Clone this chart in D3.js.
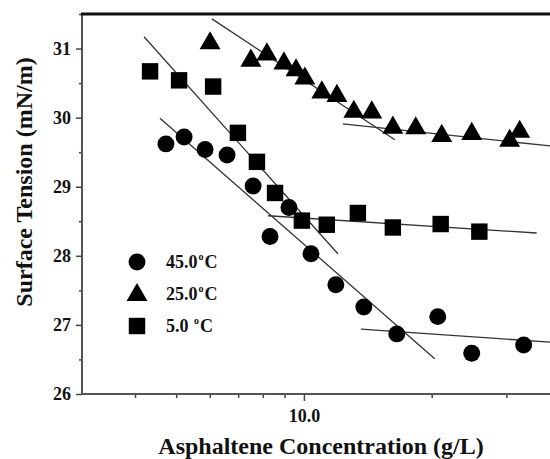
<!DOCTYPE html>
<html>
<head>
<meta charset="utf-8">
<script src="https://cdn.jsdelivr.net/npm/d3@7"></script>
<style>
  html, body { margin: 0; padding: 0; background: #fff; }
  svg { display: block; }
  text { font-family: "Liberation Serif", "Times New Roman", serif; font-weight: bold; fill: #111; }
</style>
</head>
<body>
<svg id="chart" width="550" height="459"></svg>
<script>
// ---- data ----
const seriesNames = ["45.0", "25.0", "5.0 "];
const circleX = [4.73, 5.22, 5.85, 6.59, 7.59, 8.32, 9.22, 10.39, 11.89, 13.84, 16.55, 20.67, 24.85, 32.94];
const circleY = [29.62, 29.72, 29.54, 29.46, 29.01, 28.28, 28.70, 28.03, 27.58, 27.26, 26.87, 27.12, 26.59, 26.71];
const triangleX = [6.01, 7.50, 8.18, 8.97, 9.58, 10.05, 11.02, 11.96, 13.11, 14.45, 16.2, 18.34, 21.12, 24.85, 30.53, 32.24];
const triangleY = [31.09, 30.84, 30.93, 30.80, 30.70, 30.58, 30.38, 30.33, 30.10, 30.09, 29.87, 29.86, 29.75, 29.78, 29.68, 29.81];
const squareX = [4.34, 5.08, 6.11, 6.99, 7.75, 8.55, 9.89, 11.32, 13.4, 16.2, 21.0, 25.9];
const squareY = [30.67, 30.54, 30.45, 29.78, 29.36, 28.91, 28.51, 28.45, 28.62, 28.41, 28.46, 28.35];
// fitted line segments: [x0, y0, x1, y1]
const fitLines = [
  [4.58, 29.99, 20.33, 26.51],
  [13.62, 26.94, 38, 26.75],
  [4.20, 31.17, 12.02, 28.03],
  [8.23, 28.58, 35.34, 28.33],
  [6.07, 31.43, 16.37, 29.68],
  [12.35, 29.91, 38, 29.59]
];
const xMinorTicks = [4, 5, 6, 7, 8, 9, 20, 30];
const xMajorTicks = [10];
const xTickLabels = ["10.0"];
const yMajorTicks = [26, 27, 28, 29, 30, 31];
const yMinorTicks = [26.5, 27.5, 28.5, 29.5, 30.5, 31.5];

// ---- layout ----
const L = 82, T = 14, R = 550, B = 394;
const svg = d3.select("#chart");
const x = d3.scaleLog().domain([3, 38]).range([L, R]);
const y = d3.scaleLinear().domain([26, 31.5]).range([B, T]);

svg.append("defs").append("clipPath").attr("id", "clip")
  .append("rect").attr("x", L).attr("y", T).attr("width", R - L).attr("height", B - T);

// axes
const xAxisMinor = d3.axisBottom(x).tickValues(xMinorTicks).tickSize(4).tickFormat("");
const xAxisMajor = d3.axisBottom(x).tickValues(xMajorTicks).tickSize(7).tickPadding(8)
  .tickFormat((d, i) => xTickLabels[i]);
const gxm = svg.append("g").attr("transform", `translate(0,${B})`).call(xAxisMinor);
const gx = svg.append("g").attr("transform", `translate(0,${B})`).call(xAxisMajor);
[gxm, gx].forEach(g => {
  g.select(".domain").attr("stroke", "#555").attr("stroke-width", 2).attr("d", `M${L},0H${R}`);
  g.selectAll(".tick line").attr("stroke", "#444").attr("stroke-width", 1.5);
});
gx.selectAll(".tick text").style("font-size", "18px").style("font-family", "Liberation Serif").style("font-weight", "bold").attr("fill", "#111");

const yAxisMinor = d3.axisLeft(y).tickValues(yMinorTicks).tickSize(3).tickFormat("");
const yAxisMajor = d3.axisLeft(y).tickValues(yMajorTicks).tickSize(6).tickPadding(5).tickFormat(d3.format("d"));
const gym = svg.append("g").attr("transform", `translate(${L},0)`).call(yAxisMinor);
const gy = svg.append("g").attr("transform", `translate(${L},0)`).call(yAxisMajor);
[gym, gy].forEach(g => {
  g.select(".domain").attr("stroke", "#555").attr("stroke-width", 2).attr("d", `M0,${T}V${B}`);
  g.selectAll(".tick line").attr("stroke", "#444").attr("stroke-width", 1.5);
});
gy.selectAll(".tick text").style("font-size", "18px").style("font-family", "Liberation Serif").style("font-weight", "bold").attr("fill", "#111");

// top border
svg.append("line").attr("x1", L - 1).attr("x2", R).attr("y1", T).attr("y2", T)
  .attr("stroke", "#111").attr("stroke-width", 3);

// axis titles
svg.append("text").attr("x", 321).attr("y", 454).attr("text-anchor", "middle")
  .style("font-size", "24px").text("Asphaltene Concentration (g/L)");
svg.append("text").attr("transform", "translate(32,182) rotate(-90)").attr("text-anchor", "middle")
  .style("font-size", "24px").text("Surface Tension (mN/m)");

// fit lines
const plot = svg.append("g").attr("clip-path", "url(#clip)");
plot.selectAll("line.fit").data(fitLines).join("line").attr("class", "fit")
  .attr("x1", d => x(d[0])).attr("y1", d => y(d[1]))
  .attr("x2", d => x(d[2])).attr("y2", d => y(d[3]))
  .attr("stroke", "#333").attr("stroke-width", 1.3);

// markers
const circleSym = d3.symbol().type(d3.symbolCircle).size(225);
const triSym = d3.symbol().type(d3.symbolTriangle).size(190);
const sqSym = d3.symbol().type(d3.symbolSquare).size(270);

const toPts = (xs, ys) => xs.map((v, i) => [v, ys[i]]);
svg.append("g").selectAll("path").data(toPts(circleX, circleY)).join("path")
  .attr("d", circleSym).attr("transform", d => `translate(${x(d[0])},${y(d[1])})`).attr("fill", "#000");
svg.append("g").selectAll("path").data(toPts(triangleX, triangleY)).join("path")
  .attr("d", triSym).attr("transform", d => `translate(${x(d[0])},${y(d[1]) + 1})`).attr("fill", "#000");
svg.append("g").selectAll("path").data(toPts(squareX, squareY)).join("path")
  .attr("d", sqSym).attr("transform", d => `translate(${x(d[0])},${y(d[1])})`).attr("fill", "#000");

// legend
const legend = svg.append("g");
const legSyms = [circleSym, triSym, sqSym];
const legYs = [262, 294, 326];
seriesNames.forEach((name, i) => {
  legend.append("path").attr("d", legSyms[i]).attr("transform", `translate(137,${legYs[i] + (i === 1 ? 1 : 0)})`).attr("fill", "#000");
  const t = legend.append("text").attr("x", 166).attr("y", legYs[i] + 6).style("font-size", "18px");
  t.append("tspan").text(name);
  t.append("tspan").attr("dx", 1).attr("dy", -8).style("font-size", "10px").text("o");
  t.append("tspan").attr("dx", 1).attr("dy", 8).text("C");
});
</script>
</body>
</html>
